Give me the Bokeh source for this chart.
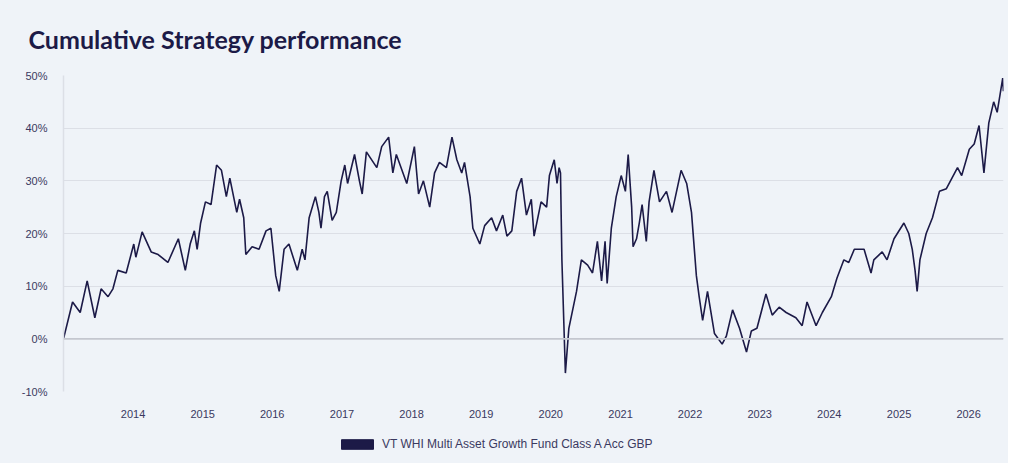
from datetime import datetime, timedelta
from bokeh.plotting import figure
from bokeh.layouts import column
from bokeh.models import (Range1d, Span, Legend, LegendItem, FixedTicker,
                          DatetimeTickFormatter, PrintfTickFormatter, Title)
from bokeh.embed import file_html
from bokeh.resources import INLINE

# decimal years
years = [2013.00, 2013.13, 2013.24, 2013.34, 2013.45, 2013.54, 2013.64, 2013.71, 2013.78, 2013.90,
         2014.01, 2014.04, 2014.13, 2014.26, 2014.36, 2014.50, 2014.65, 2014.75, 2014.82, 2014.88,
         2014.92, 2014.97, 2015.04, 2015.12, 2015.20, 2015.27, 2015.34, 2015.39, 2015.49, 2015.53,
         2015.59, 2015.62, 2015.71, 2015.81, 2015.91, 2015.98, 2016.05, 2016.10, 2016.17, 2016.24,
         2016.36, 2016.43, 2016.47, 2016.53, 2016.62, 2016.67, 2016.70, 2016.75, 2016.79, 2016.86,
         2016.92, 2016.99, 2017.04, 2017.08, 2017.18, 2017.25, 2017.29, 2017.35, 2017.50, 2017.57,
         2017.67, 2017.73, 2017.78, 2017.93, 2018.04, 2018.10, 2018.17, 2018.26, 2018.33, 2018.40,
         2018.50, 2018.58, 2018.65, 2018.72, 2018.76, 2018.84, 2018.88, 2018.98, 2019.05, 2019.15,
         2019.22, 2019.31, 2019.37, 2019.44, 2019.51, 2019.58, 2019.65, 2019.72, 2019.76, 2019.86,
         2019.94, 2019.98, 2020.05, 2020.09, 2020.12, 2020.14, 2020.16, 2020.21, 2020.26, 2020.37,
         2020.44, 2020.53, 2020.60, 2020.67, 2020.73, 2020.78, 2020.81, 2020.87, 2020.94, 2021.01,
         2021.07, 2021.11, 2021.16, 2021.18, 2021.23, 2021.27, 2021.31, 2021.37, 2021.41, 2021.48,
         2021.56, 2021.66, 2021.74, 2021.87, 2021.95, 2022.02, 2022.09, 2022.13, 2022.18, 2022.25,
         2022.35, 2022.46, 2022.52, 2022.61, 2022.71, 2022.81, 2022.88, 2022.96, 2023.09, 2023.18,
         2023.28, 2023.38, 2023.52, 2023.61, 2023.68, 2023.81, 2023.90, 2024.03, 2024.11, 2024.21,
         2024.28, 2024.36, 2024.50, 2024.60, 2024.64, 2024.76, 2024.83, 2024.93, 2025.07, 2025.14,
         2025.19, 2025.23, 2025.26, 2025.30, 2025.39, 2025.48, 2025.58, 2025.68, 2025.84, 2025.90,
         2026.01, 2026.08, 2026.15, 2026.22, 2026.29, 2026.36, 2026.41, 2026.49, 2026.50]

perf = [0, 7, 5, 11, 4, 9.5, 8, 9.5, 13, 12.5,
        18, 15.5, 20.3, 16.5, 16, 14.5, 19, 13, 18, 20.5,
        17, 22, 26, 25.5, 33, 32, 27, 30.5, 24, 26.5,
        23, 16, 17.5, 17, 20.5, 21, 12, 9, 17, 18,
        13, 17, 15, 23, 27, 24, 21, 27, 28, 22.5,
        24, 30, 33, 29.5, 35, 30, 27.5, 35.5, 32.5, 36.5,
        38.3, 31.5, 35, 29.5, 36.5, 27.5, 30, 25, 31.5, 33.5,
        32.5, 38.3, 34, 31.5, 33.5, 27, 21, 18, 21.5, 23,
        20.5, 23.5, 19.5, 20.5, 28, 30.5, 23.5, 26.5, 19.5, 26,
        25, 31, 34, 29.5, 32.5, 31.5, 15, -6.5, 2, 9,
        15, 14, 12.5, 18.5, 11, 18.5, 10.5, 21, 27, 31,
        28, 35, 25, 17.5, 19, 22, 25.5, 18.5, 26, 32,
        26, 28, 24, 32, 29.5, 24, 12, 8, 3.5, 9,
        1, -1, 0.5, 5.5, 2, -2.5, 1.5, 2, 8.5, 4.5,
        6, 5, 4, 2.5, 7, 2.5, 5, 8, 11.5, 15,
        14.5, 17, 17, 12.5, 15, 16.5, 15, 19, 22, 20,
        17, 13, 9, 15, 20, 23, 28, 28.5, 32.5, 31,
        36, 37, 40.5, 31.5, 41, 45, 43, 49.5, 47]

series_name = "VT WHI Multi Asset Growth Fund Class A Acc GBP"
tick_years = list(range(2014, 2027))
y_ticks = [-10, 0, 10, 20, 30, 40, 50]


def to_date(y):
    yr = int(y)
    return datetime(yr, 1, 1) + timedelta(days=(y - yr) * 365.25)


def to_ms(d):
    return (d - datetime(1970, 1, 1)).total_seconds() * 1000


dates = [to_date(y) for y in years]

navy = "#1c1a47"
bg = "#eff3f8"
grid = "#dcdfe6"

p = figure(frame_width=940, frame_height=316, x_axis_type="datetime", output_backend="svg",
           toolbar_location=None, background_fill_color=bg, border_fill_color=bg,
           outline_line_color=None,
           x_range=Range1d(datetime(2013, 1, 1), datetime(2026, 7, 3)),
           y_range=Range1d(-10, 50),
           min_border_left=63, min_border_right=5, min_border_bottom=32, min_border_top=18)

p.add_layout(Title(text="Cumulative Strategy performance", text_font="Lato",
                   text_font_size="25px", text_font_style="bold", text_color=navy,
                   offset=-35, standoff=43), "above")

p.line(dates, perf, line_color=navy, line_width=1.6)

p.xaxis.ticker = FixedTicker(ticks=[to_ms(datetime(y, 1, 1)) for y in tick_years])
p.xaxis.formatter = DatetimeTickFormatter(years="%Y", months="%Y", days="%Y")
p.yaxis.ticker = FixedTicker(ticks=y_ticks)
p.yaxis.formatter = PrintfTickFormatter(format="%d%%")
for ax in (p.xaxis, p.yaxis):
    ax.major_tick_line_color = None
    ax.minor_tick_line_color = None
    ax.major_label_text_font = "Liberation Sans"
    ax.major_label_text_font_size = "11px"
    ax.major_label_text_color = "#3a3960"
p.xaxis.axis_line_color = None
p.yaxis.axis_line_color = grid
p.yaxis.axis_line_width = 1.5
p.xaxis.major_label_standoff = 12
p.yaxis.major_label_standoff = 10

p.xgrid.grid_line_color = None
p.ygrid.grid_line_color = grid
p.ygrid.grid_line_width = 1.2
p.add_layout(Span(location=0, dimension="width", line_color="#c4c7cf", line_width=1.8))

# small strip under the chart that only holds the legend
leg = figure(width=1008, height=40, output_backend="svg", toolbar_location=None,
             background_fill_color=bg, border_fill_color=bg, outline_line_color=None,
             x_range=Range1d(0, 1), y_range=Range1d(0, 1), min_border=0)
leg.axis.visible = False
leg.grid.visible = False
sw = leg.quad(left=[5], right=[6], top=[5], bottom=[4], fill_color=navy, line_color=navy)
legend = Legend(items=[LegendItem(label=series_name, renderers=[sw])],
                orientation="horizontal", location=(274, 12),
                background_fill_alpha=0, border_line_color=None,
                label_text_font="Liberation Sans", label_text_font_size="12px",
                label_text_color="#3a3960", glyph_width=40, glyph_height=12,
                margin=0, padding=2)
leg.add_layout(legend)

layout = column(p, leg, spacing=0, styles={"background-color": bg})
open("out.html", "w").write(file_html(layout, INLINE))
